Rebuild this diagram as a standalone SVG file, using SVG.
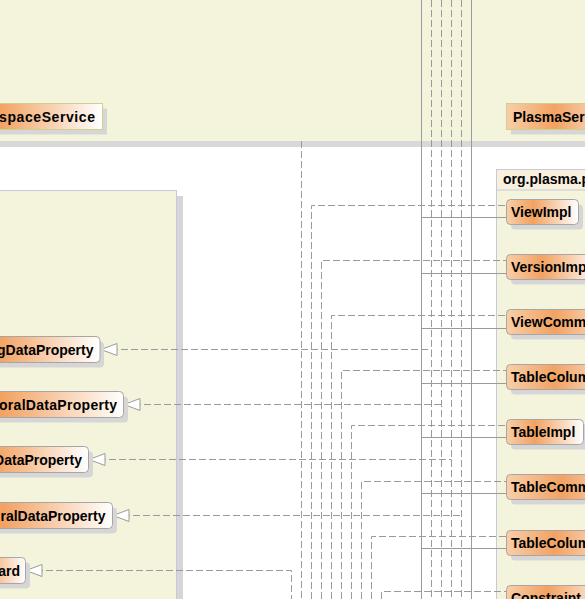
<svg xmlns="http://www.w3.org/2000/svg" width="585" height="599" viewBox="0 0 585 599">
<defs>
<linearGradient id="g" x1="0" y1="0" x2="1" y2="0">
<stop offset="0" stop-color="#f8cfa9"/>
<stop offset="0.37" stop-color="#f2a262"/>
<stop offset="1" stop-color="#ffffff"/>
</linearGradient>
<marker id="tri" markerUnits="userSpaceOnUse" markerWidth="18" markerHeight="14" viewBox="-1 -1 18 14" refX="0" refY="6" orient="0">
<path d="M0,6 L16,0 L16,12 Z" fill="#ffffff" stroke="#9a9a9a" stroke-width="1"/>
</marker>
<style>
.band{fill:#f4f4dc}
.pkg{fill:#f4f4dc;stroke:#c4cadc;stroke-width:1}
.pkgh{fill:#f8efdc;stroke:#c4cadc;stroke-width:1}
.sh{fill:#d6d6d6}
.box{fill:url(#g);stroke:#a6a6a6;stroke-width:1}
.tbox{fill:url(#g);stroke:#d0d08c;stroke-width:1}
.t{font-family:"Liberation Sans",Arial,sans-serif;font-weight:bold;font-size:14px;fill:#000}
.e{text-anchor:end}
.d{fill:none;stroke:#9a9a9a;stroke-width:1;stroke-dasharray:7 3}
.s{fill:none;stroke:#9a9a9a;stroke-width:1}
.a{marker-start:url(#tri)}
</style>
</defs>
<rect x="0" y="0" width="585" height="599" fill="#ffffff"/>
<rect class="band" x="0" y="0" width="585" height="141"/>
<rect x="0" y="141" width="585" height="6" fill="#d8d8d8"/>

<g id="pkg-left">
<rect class="sh" x="177" y="196" width="6" height="410"/>
<rect class="pkg" x="-10.5" y="190.5" width="187" height="420"/>
</g>
<g id="pkg-right">
<rect class="pkg" x="496.5" y="169.5" width="120" height="440"/>
<rect class="pkgh" x="496.5" y="169.5" width="120" height="20.5"/>
<text class="t" x="503" y="184">org.plasma.p</text>
</g>

<g id="connectors">
<path class="s" d="M421.5,0 V599 M471.5,0 V599"/>
<path class="d" d="M431.5,0 V599 M441.5,0 V599 M451.5,0 V599 M461.5,0 V599"/>
<path class="d" d="M301.5,141 V599"/>
<path class="d" d="M311.5,599 V205.5 H507"/>
<path class="d" d="M321.5,599 V260.5 H507"/>
<path class="d" d="M331.5,599 V315.5 H507"/>
<path class="d" d="M341.5,599 V370.5 H507"/>
<path class="d" d="M351.5,599 V425.5 H507"/>
<path class="d" d="M361.5,599 V481.5 H507"/>
<path class="d" d="M371.5,599 V536.5 H507"/>
<path class="d" d="M381.5,599 V591.5 H507"/>
<path class="s" d="M421.5,217.5 H507 M421.5,273.5 H507 M421.5,328.5 H507 M421.5,383.5 H507 M421.5,437.5 H507 M421.5,493.5 H507 M421.5,548.5 H507"/>
<path class="d a" d="M101,349.5 H431.5"/>
<path class="d a" d="M124,404.5 H441.5"/>
<path class="d a" d="M89,459.5 H451.5"/>
<path class="d a" d="M113,515.5 H461.5"/>
<path class="d a" d="M26,570.5 H291.5 V599"/>
</g>

<g id="n-space">
<rect class="sh" x="-56" y="108.5" width="163" height="26"/>
<rect class="tbox" x="-60.5" y="103.5" width="163" height="26"/>
<text class="t e" x="95" y="122" textLength="96" lengthAdjust="spacing">spaceService</text>
</g>
<g id="n-plasmaser">
<rect class="sh" x="511" y="108.5" width="130" height="26"/>
<rect class="tbox" x="506.5" y="103.5" width="130" height="26"/>
<text class="t" x="513" y="122">PlasmaSer</text>
</g>

<g id="n-l1">
<rect class="sh" x="-56" y="341.5" width="160" height="26" rx="4"/>
<rect class="box" x="-60.5" y="336.5" width="160.5" height="26" rx="4"/>
<text class="t e" x="93.5" y="355">gDataProperty</text>
</g>
<g id="n-l2">
<rect class="sh" x="-66" y="396.5" width="194" height="26" rx="4"/>
<rect class="box" x="-70.5" y="391.5" width="194" height="26" rx="4"/>
<text class="t e" x="117" y="410" textLength="118" lengthAdjust="spacing">oralDataProperty</text>
</g>
<g id="n-l3">
<rect class="sh" x="-56" y="451.5" width="149" height="26" rx="4"/>
<rect class="box" x="-60.5" y="446.5" width="149" height="26" rx="4"/>
<text class="t e" x="82" y="465">DataProperty</text>
</g>
<g id="n-l4">
<rect class="sh" x="-56" y="507.5" width="173" height="26" rx="4"/>
<rect class="box" x="-60.5" y="502.5" width="173" height="26" rx="4"/>
<text class="t e" x="105.5" y="521">ralDataProperty</text>
</g>
<g id="n-l5">
<rect class="sh" x="-36" y="562.5" width="66" height="26" rx="4"/>
<rect class="box" x="-40.5" y="557.5" width="66" height="26" rx="4"/>
<text class="t e" x="20" y="576">ard</text>
</g>

<g id="n-viewimpl">
<rect class="sh" x="511" y="204.5" width="72" height="25" rx="4"/>
<rect class="box" x="506.5" y="199.5" width="72" height="25" rx="4"/>
<text class="t" x="511" y="217">ViewImpl</text>
</g>
<g id="n-versionimpl">
<rect class="sh" x="511" y="259.5" width="95" height="25" rx="4"/>
<rect class="box" x="506.5" y="254.5" width="95" height="25" rx="4"/>
<text class="t" x="511" y="272">VersionImpl</text>
</g>
<g id="n-viewcomm">
<rect class="sh" x="511" y="314.5" width="130" height="25" rx="4"/>
<rect class="box" x="506.5" y="309.5" width="130" height="25" rx="4"/>
<text class="t" x="511" y="327">ViewComm</text>
</g>
<g id="n-tablecolumn1">
<rect class="sh" x="511" y="369.5" width="130" height="25" rx="4"/>
<rect class="box" x="506.5" y="364.5" width="130" height="25" rx="4"/>
<text class="t" x="511" y="382">TableColum</text>
</g>
<g id="n-tableimpl">
<rect class="sh" x="511" y="424.5" width="77" height="25" rx="4"/>
<rect class="box" x="506.5" y="419.5" width="77" height="25" rx="4"/>
<text class="t" x="511" y="437">TableImpl</text>
</g>
<g id="n-tablecomm">
<rect class="sh" x="511" y="479.5" width="150" height="25" rx="4"/>
<rect class="box" x="506.5" y="474.5" width="150" height="25" rx="4"/>
<text class="t" x="511" y="492">TableComm</text>
</g>
<g id="n-tablecolumn2">
<rect class="sh" x="511" y="535.5" width="130" height="25" rx="4"/>
<rect class="box" x="506.5" y="530.5" width="130" height="25" rx="4"/>
<text class="t" x="511" y="548">TableColum</text>
</g>
<g id="n-constraint">
<rect class="sh" x="511" y="590.5" width="110" height="25" rx="4"/>
<rect class="box" x="506.5" y="585.5" width="110" height="25" rx="4"/>
<text class="t" x="511" y="603">Constraint</text>
</g>
</svg>
